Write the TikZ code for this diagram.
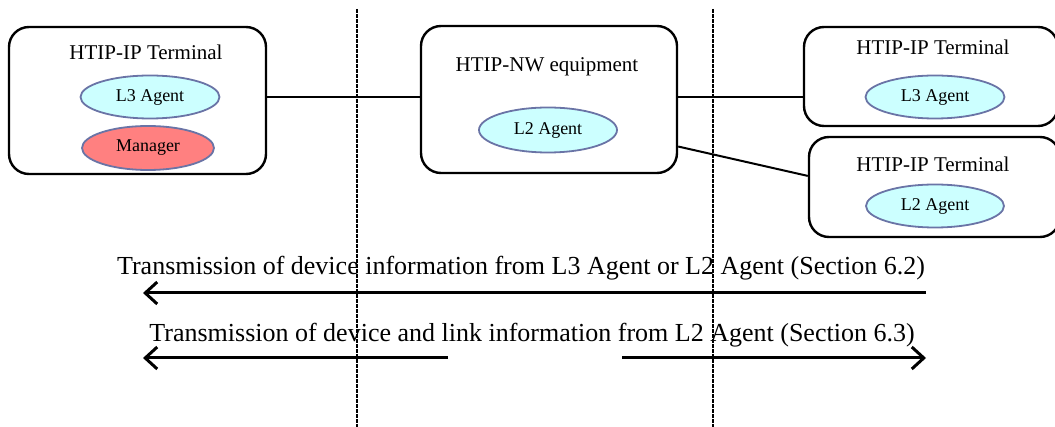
\documentclass[tikz,border=0pt]{standalone}
\usepackage{fontspec}
\setmainfont{Liberation Serif}
\usetikzlibrary{shapes,arrows.meta,positioning,calc}

\definecolor{agentfill}{HTML}{CCFFFF}
\definecolor{agentline}{HTML}{6A74A6}
\definecolor{mgrfill}{HTML}{FF8080}

\begin{document}
\begin{tikzpicture}[x=1pt, y=-1pt,
    boite/.style={draw, line width=2.4pt, rounded corners=20pt, inner sep=0pt},
    agent/.style={ellipse, draw=agentline, line width=1.8pt, fill=agentfill, minimum width=139pt, minimum height=43pt, inner sep=0pt, font=\fontsize{18}{20}\selectfont},
    titre/.style={anchor=base, font=\fontsize{21}{24}\selectfont},
    lien/.style={line width=2pt},
    fleche/.style={line width=3pt, -{Straight Barb[length=12pt,width=22pt]}},
    legende/.style={anchor=base, font=\fontsize{26}{30}\selectfont},
    frontiere/.style={line width=1.8pt, dash pattern=on 4pt off 1pt}]

    \useasboundingbox (0,0) rectangle (1055,427);

    % Frontières
    \foreach \x/\n in {357/1, 713/2} {
        \coordinate (fh\n) at (\x,9);
        \coordinate (fb\n) at (\x,427);
        \draw[frontiere] (fh\n) -- (fb\n);
    }

    % Terminal de gauche
    \node[boite, minimum width=257pt, minimum height=147pt] (tgauche) at (137.5,100.5) {};
    \node[titre] (tgtitre) at (146,60) {HTIP-IP Terminal};
    \node[agent] (l3g) at (150,97) {L3 Agent};
    \node[agent, fill=mgrfill, minimum width=132pt, minimum height=44pt] (mgr) at (148,148) {Manager};

    % Equipement réseau
    \node[boite, minimum width=256pt, minimum height=147pt] (nweq) at (549,99.5) {};
    \node[titre] (nwtitre) at (547,72) {HTIP-NW equipment};
    \node[agent, minimum width=138pt, minimum height=45pt] (l2nw) at (548,130) {L2 Agent};

    % Terminaux de droite
    \node[boite, minimum width=254pt, minimum height=99pt] (tdh) at (931,76.5) {};
    \node[titre] (tdhtitre) at (933,55) {HTIP-IP Terminal};
    \node[agent] (l3d) at (935,97) {L3 Agent};
    \node[boite, minimum width=251pt, minimum height=100pt] (tdb) at (934.5,187) {};
    \node[titre] (tdbtitre) at (933,172) {HTIP-IP Terminal};
    \node[agent, minimum width=138pt] (l2d) at (935,206) {L2 Agent};

    % Liens
    \draw[lien] (tgauche.east |- l3g) -- (nweq.west |- l3g);
    \draw[lien] (nweq.east |- l3d) -- (tdh.west |- l3d);
    \draw[lien] (nweq.-20.75) -- (tdb.175);

    % Transmissions
    \node[legende] (leg1) at (521,275) {Transmission of device information from L3 Agent or L2 Agent (Section 6.2)};
    \node[legende] (leg2) at (532,342) {Transmission of device and link information from L2 Agent (Section 6.3)};

    \coordinate (a1d) at (926,293);
    \coordinate (a1g) at (143,293);
    \coordinate (a2g) at (143,358);
    \coordinate (a2m) at (448,358);
    \coordinate (a3m) at (622,358);
    \coordinate (a3d) at (926,358);
    \draw[fleche] (a1d) -- (a1g);
    \draw[fleche] (a2m) -- (a2g);
    \draw[fleche] (a3m) -- (a3d);
\end{tikzpicture}
\end{document}
